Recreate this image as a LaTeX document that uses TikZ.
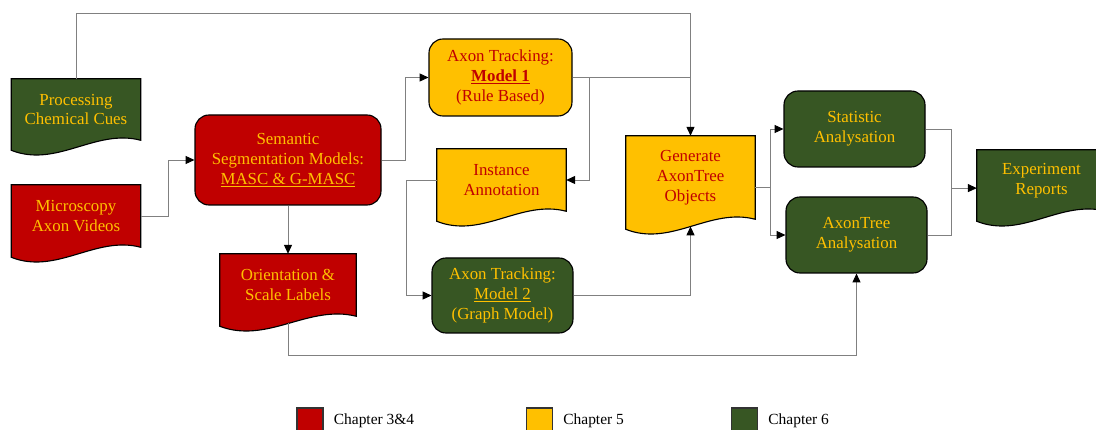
\documentclass[tikz,border=0pt]{standalone}
\usepackage{fontspec}
\setmainfont{Liberation Serif}
\usetikzlibrary{arrows.meta, positioning, calc, backgrounds}

\definecolor{chred}{HTML}{C00000}
\definecolor{chyellow}{HTML}{FFC000}
\definecolor{chgreen}{HTML}{375623}

% document shape (wavy bottom) drawn behind a named node
\newcommand{\docshape}[2]{%
  \filldraw[fill=#2, draw=black, line width=0.8pt]
    (#1.north west) -- (#1.north east) -- (#1.south east)
    .. controls ($(#1.south west)!0.65!(#1.south east)+(0,0.3)$)
    and ($(#1.south west)!0.35!(#1.south east)+(0,-0.7)$)
    .. ($(#1.south west)+(0,-0.25)$) -- cycle;
}

\begin{document}
\begin{tikzpicture}[
    font=\fontsize{12}{14.2}\selectfont,
    rbox/.style={rectangle, rounded corners=0.35cm, draw=black, line width=0.8pt, align=center, inner sep=2pt},
    docbox/.style={rectangle, align=center, inner sep=2pt},
    arrow/.style={draw=black!50, line width=0.6pt, -{Triangle[length=2.2mm, width=2mm, color=black]}},
    link/.style={draw=black!50, line width=0.6pt},
    legbox/.style={rectangle, draw=black!80, line width=0.8pt, minimum size=0.65cm, inner sep=0pt},
    legtext/.style={font=\fontsize{11}{13}\selectfont, inner sep=0pt}
]
\useasboundingbox (0,0) rectangle (27.4,-10.75);

% Inputs
\node[docbox, text=chyellow, minimum width=3.225cm, minimum height=1.525cm] (proc) at (1.9,-2.7375) {Processing\\Chemical Cues};
\node[docbox, text=chyellow, minimum width=3.225cm, minimum height=1.55cm] (micro) at (1.9,-5.4) {Microscopy\\Axon Videos};

% Chapter 3&4
\node[rbox, fill=chred, text=chyellow, minimum width=4.65cm, minimum height=2.25cm] (sem) at (7.2,-4.0) {Semantic\\Segmentation Models:\\\underline{MASC \& G-MASC}};
\node[docbox, text=chyellow, minimum width=3.4cm, minimum height=1.55cm] (orient) at (7.2,-7.125) {Orientation \&\\Scale Labels};

% Chapter 5
\node[rbox, fill=chyellow, text=chred, minimum width=3.575cm, minimum height=1.925cm] (m1) at (12.5125,-1.9375) {Axon Tracking:\\\underline{\textbf{Model 1}}\\(Rule Based)};
\node[docbox, text=chred, minimum width=3.225cm, minimum height=1.55cm] (inst) at (12.5375,-4.5) {Instance\\Annotation};
\node[rbox, fill=chgreen, text=chyellow, minimum width=3.525cm, minimum height=1.875cm] (m2) at (12.5625,-7.3875) {Axon Tracking:\\\underline{Model 2}\\(Graph Model)};
\node[docbox, text=chred, minimum width=3.225cm, minimum height=2.075cm] (gen) at (17.2625,-4.4375) {Generate\\AxonTree\\Objects};

% Chapter 6
\node[rbox, fill=chgreen, text=chyellow, minimum width=3.525cm, minimum height=1.9cm] (stat) at (21.3625,-3.225) {Statistic\\Analysation};
\node[rbox, fill=chgreen, text=chyellow, minimum width=3.525cm, minimum height=1.9cm] (atan) at (21.4125,-5.875) {AxonTree\\Analysation};
\node[docbox, text=chyellow, minimum width=3.225cm, minimum height=1.525cm] (exp) at (26.0375,-4.5125) {Experiment\\Reports};

% Document shapes
\begin{scope}[on background layer]
\docshape{proc}{chgreen}
\docshape{micro}{chred}
\docshape{orient}{chred}
\docshape{inst}{chyellow}
\docshape{gen}{chyellow}
\docshape{exp}{chgreen}
\end{scope}

% Arrows
\coordinate (gen-in) at ($(gen.south)+(0,-0.18)$);
\coordinate (gen-out) at ($(gen.east)+(0,-0.26)$);
\coordinate (ori-out) at ($(orient.south)+(0,-0.18)$);
\coordinate (exp-in) at ($(exp.west)+(0,-0.19)$);
\coordinate (merge) at ($(exp-in)+(-0.625,0)$);

\draw[arrow] (proc.north) -- ++(0,1.625) -| (gen.north);
\draw[link] (m1.east) -- (m1.east -| gen.north);
\draw[arrow] (m1.east) -- ++(0.425,0) |- (inst.east);
\draw[arrow] (micro.east) -- ++(0.7,0) |- (sem.west);
\draw[arrow] (sem.east) -- ++(0.6,0) |- (m1.west);
\draw[arrow] (sem.south) -- (orient.north);
\draw[arrow] (inst.west) -- ++(-0.75,0) |- (m2.west);
\draw[arrow] (m2.east) -| (gen-in);
\draw[arrow] (gen-out) -- ++(0.375,0) |- (stat.west);
\draw[arrow] (gen-out) -- ++(0.375,0) |- (atan.west);
\draw[link] (stat.east) -| (merge);
\draw[link] (atan.east) -| (merge);
\draw[arrow] (merge) -- (exp-in);
\draw[arrow] (ori-out) -- ++(0,-0.8) -| (atan.south);

% Legend
\node[legbox, fill=chred] (leg1) at (7.75,-10.525) {};
\node[legtext, right=0.25cm of leg1] (leg1txt) {Chapter 3\&4};
\node[legbox, fill=chyellow] (leg2) at (13.4875,-10.525) {};
\node[legtext, right=0.25cm of leg2] (leg2txt) {Chapter 5};
\node[legbox, fill=chgreen] (leg3) at (18.6125,-10.525) {};
\node[legtext, right=0.25cm of leg3] (leg3txt) {Chapter 6};

\end{tikzpicture}
\end{document}
